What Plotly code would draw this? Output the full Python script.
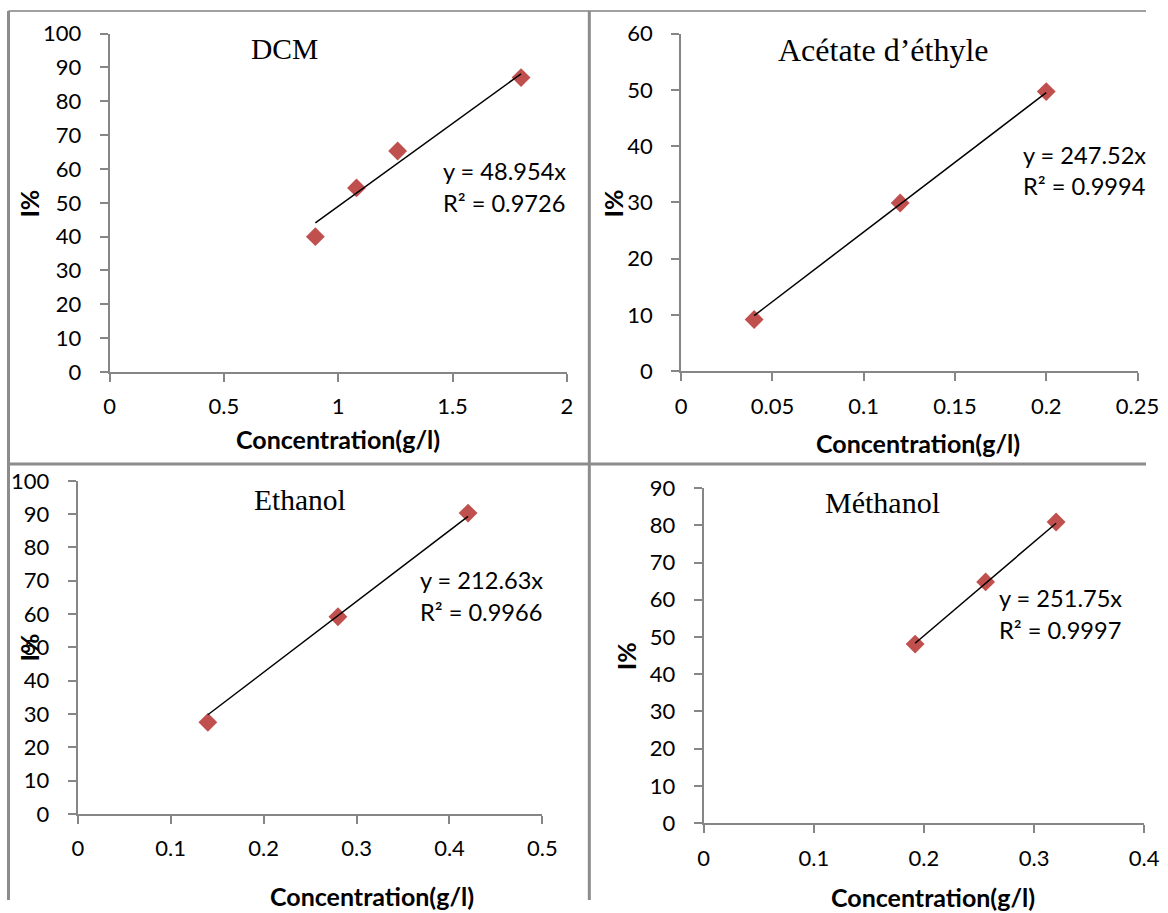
import plotly.graph_objects as go

# ---------------- data ----------------
titles = ["DCM", "Acétate d’éthyle", "Ethanol", "Méthanol"]

dcm_x = [0.9, 1.08, 1.26, 1.8]
dcm_y = [40.0, 54.4, 65.3, 87.0]

acet_x = [0.04, 0.12, 0.2]
acet_y = [9.2, 29.9, 49.7]

eth_x = [0.14, 0.28, 0.42]
eth_y = [27.5, 59.2, 90.3]

meth_x = [0.192, 0.256, 0.32]
meth_y = [48.1, 64.8, 80.9]

slopes = [48.954, 247.52, 212.63, 251.75]
r2_values = ["0.9726", "0.9994", "0.9966", "0.9997"]

x_ticks = [
    [0, 0.5, 1, 1.5, 2],
    [0, 0.05, 0.1, 0.15, 0.2, 0.25],
    [0, 0.1, 0.2, 0.3, 0.4, 0.5],
    [0, 0.1, 0.2, 0.3, 0.4],
]
x_ticktext = [
    ["0", "0.5", "1", "1.5", "2"],
    ["0", "0.05", "0.1", "0.15", "0.2", "0.25"],
    ["0", "0.1", "0.2", "0.3", "0.4", "0.5"],
    ["0", "0.1", "0.2", "0.3", "0.4"],
]
y_ticks = [
    list(range(0, 101, 10)),
    list(range(0, 61, 10)),
    list(range(0, 101, 10)),
    list(range(0, 91, 10)),
]
x_title = "Concentration(g/l)"
y_title = "I%"

# ---------------- layout helpers ----------------
W, H = 1168, 913
# calibration of the photographed page (picture px = A + S * figure px)
AX, SX = 4.5, 0.978
AY, SY = 12.0, 0.975


def px(x):
    """target picture x (px) -> paper fraction"""
    return ((x - AX) / SX) / W


def py(y):
    """target picture y (px, from top) -> paper fraction"""
    return 1 - ((y - AY) / SY) / H


# plot-area target boxes (left, right, top, bottom) in picture px
boxes = [
    (108.4, 566.4, 31.7, 371.7),
    (681.0, 1138.3, 31.7, 371.0),
    (76.4, 542.0, 481.0, 815.7),
    (703.6, 1145.0, 488.3, 825.0),
]
title_pos = [(284, 47), (884, 48), (299, 500), (883, 503)]
title_size = [29.5, 32, 29.5, 30]
eq_pos = [(440, 170, 202), (1022, 154, 185), (417, 581, 613), (998, 599, 631)]
xt_pos = [(337, 439), (918, 443), (371, 898), (933, 899)]
yt_pos = [(28, 202), (613, 202), (28, 648), (626, 657)]

series = [(dcm_x, dcm_y), (acet_x, acet_y), (eth_x, eth_y), (meth_x, meth_y)]

AXIS_COLOR = "#868686"
MARKER_COLOR = "#C0504D"
SANS = "Lato, 'Open Sans', sans-serif"
SERIF = "'Liberation Serif', 'Times New Roman', serif"

fig = go.Figure()
annotations = []
layout_axes = {}

for i, (xs, ys) in enumerate(series):
    n = "" if i == 0 else str(i + 1)
    xa, ya = "x" + n, "y" + n
    fig.add_trace(go.Scatter(
        x=xs, y=ys, mode="markers", xaxis=xa, yaxis=ya,
        marker=dict(symbol="diamond", size=14.5, color=MARKER_COLOR),
        cliponaxis=False, showlegend=False,
    ))
    # linear trendline through origin: y = slope * x
    tx = [min(xs), max(xs)]
    ty = [slopes[i] * v for v in tx]
    fig.add_trace(go.Scatter(
        x=tx, y=ty, mode="lines", xaxis=xa, yaxis=ya,
        line=dict(color="black", width=1.5),
        cliponaxis=False, showlegend=False,
    ))

    l, r, t, b = boxes[i]
    layout_axes["xaxis" + n] = dict(
        domain=[px(l), px(r)], anchor=ya,
        range=[0, x_ticks[i][-1]], tickmode="array",
        tickvals=x_ticks[i], ticktext=x_ticktext[i],
        showgrid=False, zeroline=False, showline=True,
        linecolor=AXIS_COLOR, linewidth=2,
        ticks="outside", ticklen=8, tickwidth=2, tickcolor=AXIS_COLOR,
        ticklabelstandoff=6,
        tickfont=dict(family=SANS, size=22, color="black"),
    )
    layout_axes["yaxis" + n] = dict(
        domain=[py(b), py(t)], anchor=xa,
        range=[0, y_ticks[i][-1]], tickmode="array",
        tickvals=y_ticks[i],
        showgrid=False, zeroline=False, showline=True,
        linecolor=AXIS_COLOR, linewidth=2,
        ticks="outside", ticklen=8, tickwidth=2, tickcolor=AXIS_COLOR,
        ticklabelstandoff=14,
        tickfont=dict(family=SANS, size=22, color="black"),
    )

    annotations.append(dict(
        text=titles[i], x=px(title_pos[i][0]), y=py(title_pos[i][1]),
        xref="paper", yref="paper", xanchor="center", yanchor="middle",
        showarrow=False, font=dict(family=SERIF, size=title_size[i], color="black"),
    ))
    ex, ey1, ey2 = eq_pos[i]
    annotations.append(dict(
        text=f"y = {slopes[i]}x", x=px(ex), y=py(ey1),
        xref="paper", yref="paper", xanchor="left", yanchor="middle",
        showarrow=False, font=dict(family=SANS, size=23.6, color="black"),
    ))
    annotations.append(dict(
        text=f"R² = {r2_values[i]}", x=px(ex), y=py(ey2),
        xref="paper", yref="paper", xanchor="left", yanchor="middle",
        showarrow=False, font=dict(family=SANS, size=23.6, color="black"),
    ))
    annotations.append(dict(
        text=f"<b>{x_title}</b>", x=px(xt_pos[i][0]), y=py(xt_pos[i][1]),
        xref="paper", yref="paper", xanchor="center", yanchor="middle",
        showarrow=False, font=dict(family=SANS, size=25, color="black"),
    ))
    annotations.append(dict(
        text=f"<b>{y_title}</b>", x=px(yt_pos[i][0]), y=py(yt_pos[i][1]),
        xref="paper", yref="paper", xanchor="center", yanchor="middle",
        textangle=-90,
        showarrow=False, font=dict(family=SANS, size=25, color="black"),
    ))

BORDER = "#8c8c8c"
shapes = [
    dict(type="line", xref="paper", yref="paper", x0=px(7), x1=1, y0=py(9), y1=py(9),
         line=dict(color="#a0a0a0", width=2)),
    dict(type="line", xref="paper", yref="paper", x0=px(7), x1=px(7), y0=py(9), y1=0,
         line=dict(color=BORDER, width=3)),
    dict(type="line", xref="paper", yref="paper", x0=px(589), x1=px(589), y0=py(9), y1=0,
         line=dict(color=BORDER, width=3)),
    dict(type="line", xref="paper", yref="paper", x0=px(7), x1=1, y0=py(464), y1=py(464),
         line=dict(color=BORDER, width=3)),
]

fig.update_layout(
    width=W, height=H,
    margin=dict(l=0, r=0, t=0, b=0),
    paper_bgcolor="white", plot_bgcolor="white",
    showlegend=False,
    annotations=annotations,
    shapes=shapes,
    **layout_axes,
)

fig.write_html("out.html")
